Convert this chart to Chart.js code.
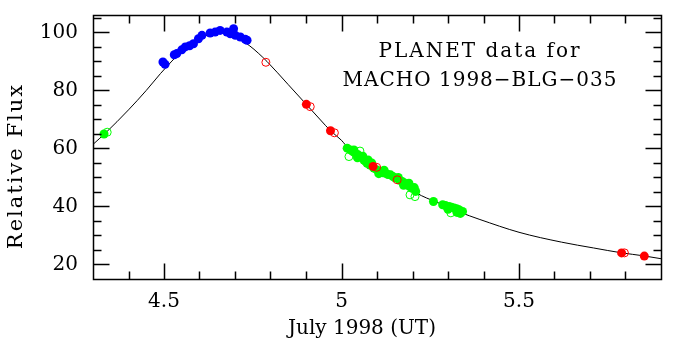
<!DOCTYPE html>
<html>
<head>
<meta charset="utf-8">
<script src="https://cdn.jsdelivr.net/npm/chart.js@4.4.1/dist/chart.umd.min.js"></script>
<style>
html, body { margin: 0; padding: 0; background: #fff; }
</style>
</head>
<body>
<canvas id="myChart" width="677" height="350"></canvas>
<script>
// model light curve
const curveT = [4.30, 4.335, 4.40, 4.45, 4.49, 4.51, 4.55, 4.60, 4.65, 4.70, 4.74, 4.767, 4.79, 4.85, 4.90, 4.941, 4.97, 5.00, 5.02, 5.05, 5.09, 5.15, 5.21, 5.24, 5.28, 5.33, 5.36, 5.39, 5.50, 5.62, 5.71, 5.79, 5.85, 5.90];
const curveF = [61.4, 65.3, 73.3, 80.0, 85.8, 88.5, 93.5, 97.8, 99.8, 98.4, 95.5, 92.7, 90.0, 82.0, 75.3, 69.8, 66.0, 62.8, 60.0, 57.8, 53.6, 49.5, 44.7, 42.9, 40.9, 38.2, 36.8, 35.5, 31.1, 27.7, 25.7, 24.0, 23.0, 22.0];

// blue (filled)
const blueT = [4.497, 4.503, 4.529, 4.536, 4.550, 4.560, 4.572, 4.583, 4.597, 4.607, 4.630, 4.644, 4.658, 4.677, 4.687, 4.696, 4.701, 4.715, 4.729, 4.734];
const blueF = [89.8, 89.0, 92.3, 92.7, 94.0, 95.0, 95.4, 96.1, 97.8, 99.0, 99.8, 100.1, 100.7, 100.1, 99.5, 101.3, 99.0, 98.4, 97.6, 97.3];

// green filled
const greenT = [4.331, 5.016, 5.025, 5.032, 5.035, 5.039, 5.045, 5.047, 5.054, 5.060, 5.063, 5.068, 5.072, 5.075, 5.080, 5.085, 5.091, 5.100, 5.105, 5.110, 5.117, 5.120, 5.124, 5.131, 5.138, 5.145, 5.152, 5.160, 5.164, 5.171, 5.175, 5.178, 5.185, 5.190, 5.192, 5.199, 5.205, 5.209, 5.259, 5.285, 5.293, 5.300, 5.303, 5.310, 5.317, 5.324, 5.325, 5.331, 5.335, 5.341];
const greenF = [65.0, 60.1, 59.5, 58.9, 59.5, 58.3, 56.8, 57.8, 57.2, 57.3, 56.0, 55.6, 54.9, 56.0, 54.3, 55.0, 53.2, 52.6, 51.3, 52.0, 51.6, 52.5, 51.5, 51.0, 50.9, 50.3, 49.8, 50.0, 49.0, 48.6, 47.3, 48.0, 47.5, 48.0, 46.9, 46.3, 46.5, 45.2, 41.7, 40.6, 40.3, 39.0, 40.0, 39.7, 39.5, 39.2, 38.0, 38.9, 37.6, 38.3];
// green open
const greenOpenT = [4.340, 5.021, 5.052, 5.123, 5.193, 5.207, 5.308, 5.331];
const greenOpenF = [65.6, 57.2, 59.1, 51.5, 44.0, 43.4, 37.8, 37.8];

// red filled / open
const redT = [4.901, 4.969, 5.089, 5.789, 5.853];
const redF = [75.2, 66.1, 53.8, 24.0, 22.9];
const redOpenT = [4.787, 4.912, 4.980, 5.099, 5.157, 5.797];
const redOpenF = [89.7, 74.4, 65.4, 53.5, 49.2, 24.0];

// axis ticks
const xLabels = [4.5, 5, 5.5];
const yLabels = [20, 40, 60, 80, 100];
const xMinor = [4.4, 4.5, 4.6, 4.7, 4.8, 4.9, 5.0, 5.1, 5.2, 5.3, 5.4, 5.5, 5.6, 5.7, 5.8];
const yMinor = [20, 25, 30, 35, 40, 45, 50, 55, 60, 65, 70, 75, 80, 85, 90, 95, 100, 105];

function pts(t, f) {
    return t.map(function (v, i) { return {x: v, y: f[i]}; });
}

const serif = 'DejaVu Serif';

// frame, inward ticks on all four sides, titles and the label
const frame = {
    id: 'frame',
    afterDraw(chart) {
        const c = chart.ctx;
        const a = chart.chartArea;
        const sx = chart.scales.x, sy = chart.scales.y;
        const L = Math.round(a.left) + 0.5, R = Math.round(a.right) + 0.5;
        const T = Math.round(a.top) + 0.5, B = Math.round(a.bottom) + 0.5;
        c.save();
        c.globalAlpha = 1;
        c.setLineDash([]);
        c.strokeStyle = '#000';
        c.lineWidth = 1.5;
        c.beginPath();
        c.moveTo(L, T); c.lineTo(R, T); c.lineTo(R, B); c.lineTo(L, B); c.closePath();
        c.stroke();

        xMinor.forEach(function (v) {
            const px = Math.round(sx.getPixelForValue(v)) + 0.5;
            const len = xLabels.indexOf(v) >= 0 ? 16 : 8;
            c.beginPath();
            c.moveTo(px, B); c.lineTo(px, B - len);
            c.moveTo(px, T); c.lineTo(px, T + len);
            c.stroke();
        });
        yMinor.forEach(function (v) {
            const py = Math.round(sy.getPixelForValue(v)) + 0.5;
            const len = yLabels.indexOf(v) >= 0 ? 16 : 8;
            c.beginPath();
            c.moveTo(L, py); c.lineTo(L + len, py);
            c.moveTo(R, py); c.lineTo(R - len, py);
            c.stroke();
        });
        c.restore();

        c.save();
        c.fillStyle = '#000';
        c.font = '20px "' + serif + '"';
        c.textAlign = 'center';
        c.textBaseline = 'alphabetic';
        c.letterSpacing = '2px';
        c.fillText('PLANET data for', 480, 57);
        c.letterSpacing = '1px';
        c.fillText('MACHO 1998\u2212BLG\u2212035', 480, 86);

        c.letterSpacing = '0px';
        c.textBaseline = 'middle';
        c.fillText('July 1998 (UT)', 362, 329);

        c.translate(17, 166);
        c.rotate(-Math.PI / 2);
        c.font = '21px "' + serif + '"';
        c.letterSpacing = '2px';
        c.fillText('Relative Flux', 0, 0);
        c.restore();
        c.letterSpacing = '0px';
    }
};

const ctx = document.getElementById('myChart');
const graphique = new Chart(ctx.getContext('2d'), {
    type: 'scatter',
    data: {
        datasets: [{
            label: 'model',
            data: pts(curveT, curveF),
            showLine: true,
            borderColor: '#000',
            borderWidth: 1,
            pointRadius: 0,
            cubicInterpolationMode: 'monotone',
            order: 10
        }, {
            label: 'blue',
            data: pts(blueT, blueF),
            backgroundColor: 'rgb(0,0,255)',
            borderWidth: 0,
            pointRadius: 4.5,
            order: 5
        }, {
            label: 'green',
            data: pts(greenT, greenF),
            backgroundColor: 'rgb(0,255,0)',
            borderWidth: 0,
            pointRadius: 4.5,
            order: 5
        }, {
            label: 'green open',
            data: pts(greenOpenT, greenOpenF),
            backgroundColor: 'rgba(0,0,0,0)',
            borderColor: 'rgb(0,255,0)',
            borderWidth: 1,
            pointRadius: 4,
            order: 3
        }, {
            label: 'red',
            data: pts(redT, redF),
            backgroundColor: 'rgb(255,0,0)',
            borderWidth: 0,
            pointRadius: 4.5,
            order: 2
        }, {
            label: 'red open',
            data: pts(redOpenT, redOpenF),
            backgroundColor: 'rgba(0,0,0,0)',
            borderColor: 'rgb(255,0,0)',
            borderWidth: 1,
            pointRadius: 4,
            order: 1
        }]
    },
    options: {
        responsive: false,
        animation: false,
        layout: {padding: {top: 15, right: 16, left: 0, bottom: 0}},
        plugins: {legend: {display: false}, tooltip: {enabled: false}},
        scales: {
            x: {
                type: 'linear',
                min: 4.3,
                max: 5.9,
                grid: {display: false, drawTicks: false},
                border: {display: false},
                afterBuildTicks: function (s) { s.ticks = xLabels.map(function (v) { return {value: v}; }); },
                afterFit: function (s) { s.height = 71; s.paddingLeft = 0; s.paddingRight = 0; },
                ticks: {
                    color: '#000',
                    padding: 11,
                    maxRotation: 0,
                    font: {family: serif, size: 20},
                    callback: function (v) { return String(v); }
                }
            },
            y: {
                type: 'linear',
                min: 15,
                max: 106,
                grid: {display: false, drawTicks: false},
                border: {display: false},
                afterBuildTicks: function (s) { s.ticks = yLabels.map(function (v) { return {value: v}; }); },
                afterFit: function (s) { s.width = 93; s.paddingTop = 0; s.paddingBottom = 0; },
                ticks: {
                    color: '#000',
                    padding: 15,
                    font: {family: serif, size: 20},
                    callback: function (v) { return String(v); }
                }
            }
        }
    },
    plugins: [frame]
});
</script>
</body>
</html>
